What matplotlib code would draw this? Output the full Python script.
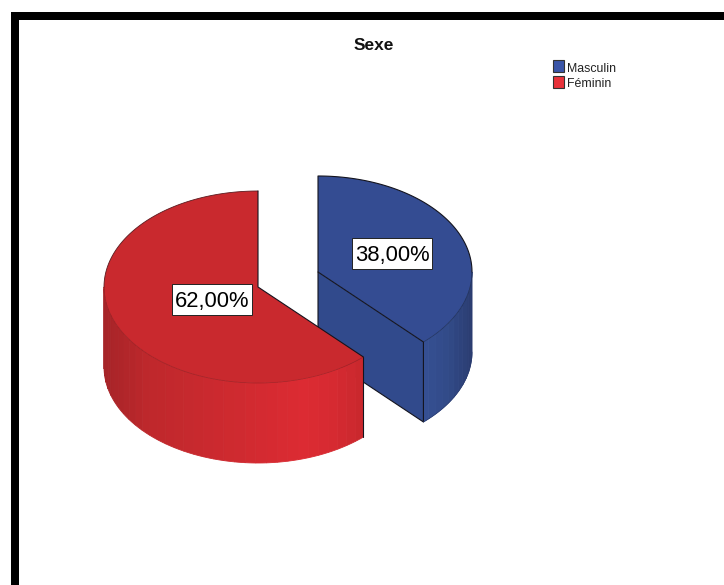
import numpy as np
import matplotlib
matplotlib.use("Agg")
import matplotlib.pyplot as plt
from matplotlib.patches import Polygon, Rectangle

title = "Sexe"
labels = ["Masculin", "Féminin"]
shares = [38.0, 62.0]
value_labels = ["38,00%", "62,00%"]

W, H = 724, 585
RX, RY, DEPTH = 154, 96, 80

plt.rcParams["font.family"] = ["Liberation Sans", "DejaVu Sans"]

fig = plt.figure(figsize=(W / 100, H / 100), dpi=100)
ax = fig.add_axes([0, 0, 1, 1])
ax.set_xlim(0, W)
ax.set_ylim(H, 0)
ax.axis("off")


def rim(cx, cy, t0, t1, n=120):
    # t in degrees, clockwise from 12 o'clock
    t = np.radians(np.linspace(t0, t1, n))
    return np.column_stack([cx + RX * np.sin(t), cy - RY * np.cos(t)])


def wall(cx, cy, t0, t1, stops, z, step=4):
    # vertical bands, the colour follows x across the pie
    xs, reds, greens, blues = zip(*stops)
    for a in np.arange(t0, t1, step):
        b = min(a + step, t1)
        top = rim(cx, cy, a, b, 6)
        bottom = top[::-1] + [0, DEPTH]
        u = (top[:, 0].mean() - cx) / RX
        col = [np.interp(u, xs, c) / 255 for c in (reds, greens, blues)]
        ax.add_patch(Polygon(np.vstack([top, bottom]), fc=col, ec=col, lw=0.6, zorder=z))


def outline(pts, lw=0.8, color="#14141e", z=4):
    pts = np.array(pts)
    ax.plot(pts[:, 0], pts[:, 1], color=color, lw=lw, zorder=z, solid_capstyle="round")


split = shares[0] / 100 * 360

# blue slice
bx, by = 318, 272
end = rim(bx, by, split, split, 1)[0]
ax.add_patch(Polygon(np.vstack([[bx, by], rim(bx, by, 0, split)]), fc="#344c92", ec="none", zorder=2))
ax.add_patch(Polygon([[bx, by], end, end + [0, DEPTH], [bx, by + DEPTH]], fc="#314a8c", ec="none", zorder=2))
wall(bx, by, 90, split, [(0.65, 0x36, 0x51, 0x96), (0.85, 0x32, 0x4a, 0x88), (1.0, 0x2a, 0x3c, 0x70)], 2)
outline(np.vstack([[bx, by + DEPTH], [bx, by], rim(bx, by, 0, 90)]))
outline(rim(bx, by, 90, split), lw=0.5, color="#22335f")
outline([[bx, by], end, end + [0, DEPTH], [bx, by + DEPTH]])
outline(rim(bx, by, 90, split) + [0, DEPTH], lw=0.5, color="#2a3c70")

# red slice
rx, ry = 258, 287
rend = rim(rx, ry, split, split, 1)[0]
ax.add_patch(Polygon(np.vstack([[rx, ry], rim(rx, ry, split, 360)]), fc="#c9292e", ec="none", zorder=5))
wall(rx, ry, split, 270, [(-1.0, 0xa6, 0x24, 0x28), (-0.7, 0xbf, 0x28, 0x2c), (-0.1, 0xd0, 0x2a, 0x30),
                          (0.3, 0xdc, 0x2b, 0x33), (0.5, 0xd6, 0x2a, 0x31), (0.68, 0xc8, 0x28, 0x2d)], 5)
outline(rim(rx, ry, split, 270), lw=0.5, color="#a02226", z=6)
outline(rim(rx, ry, 270, 360), lw=0.6, color="#5a1a1e", z=6)
outline([[rx, ry - RY], [rx, ry], rend], z=6)
outline([rend, rend + [0, DEPTH]], z=6)

# value boxes
for text, (x0, y0) in zip(value_labels, [(352, 238), (172, 284)]):
    ax.add_patch(Rectangle((x0, y0), 80, 31, fc="white", ec="#222222", lw=0.7, zorder=7))
    ax.text(x0 + 40, y0 + 17, text, fontsize=15.8, ha="center", va="center", color="black", zorder=8)

ax.text(373.5, 45.5, title, fontsize=12.5, fontweight="bold", ha="center", va="center", color="#111111")

# legend drawn by hand, same look as the SPSS output
for i, (name, col) in enumerate(zip(labels, ["#3a55a8", "#e8323a"])):
    y = 66 + i * 15.5
    ax.add_patch(Rectangle((553, y - 6), 11, 12, fc=col, ec="#333333", lw=0.8))
    ax.text(567, y + 2.5, name, fontsize=8.9, ha="left", va="center", color="#222222")

# black frame, left and top only
ax.add_patch(Rectangle((11, 12), 8, H, fc="black", ec="none"))
ax.add_patch(Rectangle((11, 12), W, 8, fc="black", ec="none"))

fig.savefig("out.png", dpi=100)
